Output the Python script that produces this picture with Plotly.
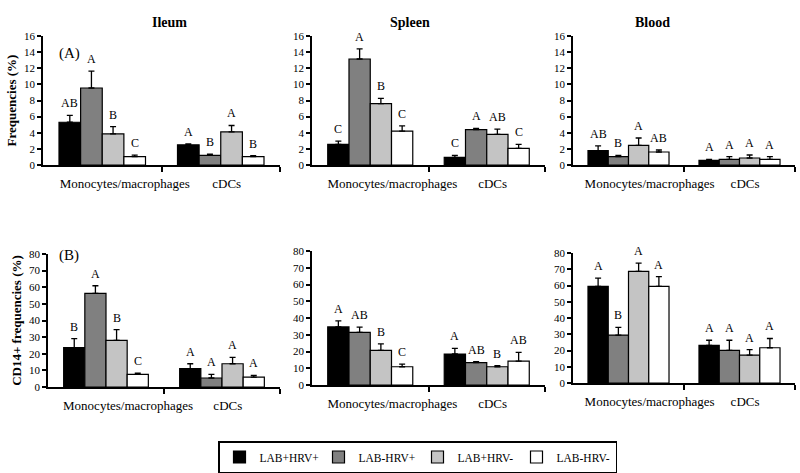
import plotly.graph_objects as go

W, H = 800, 473
FONT = "Liberation Serif, Times New Roman, Times, serif"

series_names = ["LAB+HRV+", "LAB-HRV+", "LAB+HRV-", "LAB-HRV-"]
series_colors = ["#000000", "#808080", "#c4c4c4", "#ffffff"]
categories = ["Monocytes/macrophages", "cDCs"]
category_x = [0.5, 1.5]
category_label_x = [0.69, 1.55]
tissues = ["Ileum", "Spleen", "Blood"]

# (A) Frequencies (%) -- rows = series, columns = [Monocytes/macrophages, cDCs]
ileum_freq = [[5.3, 2.5], [9.55, 1.2], [3.85, 4.1], [1.05, 1.05]]
ileum_freq_err = [[0.85, 0.12], [2.1, 0.16], [0.9, 0.8], [0.17, 0.12]]
ileum_freq_letters = [["AB", "A"], ["A", "B"], ["B", "A"], ["C", "B"]]
spleen_freq = [[2.55, 0.95], [13.15, 4.4], [7.6, 3.8], [4.2, 2.05]]
spleen_freq_err = [[0.42, 0.25], [1.25, 0.13], [0.66, 0.66], [0.66, 0.5]]
spleen_freq_letters = [["C", "C"], ["A", "A"], ["B", "AB"], ["C", "C"]]
blood_freq = [[1.78, 0.58], [1.03, 0.7], [2.44, 0.87], [1.61, 0.7]]
blood_freq_err = [[0.58, 0.12], [0.17, 0.33], [0.91, 0.37], [0.25, 0.33]]
blood_freq_letters = [["AB", "A"], ["B", "A"], ["A", "A"], ["AB", "A"]]

# (B) CD14+ frequencies (%)
ileum_cd14 = [[23.7, 11.0], [56.3, 5.4], [28.1, 14.0], [7.6, 6.0]]
ileum_cd14_err = [[5.4, 3.0], [4.6, 2.2], [6.4, 3.8], [0.8, 1.0]]
ileum_cd14_letters = [["B", "A"], ["A", "A"], ["B", "A"], ["C", "A"]]
spleen_cd14 = [[34.7, 18.5], [31.4, 13.3], [20.7, 10.9], [10.9, 14.3]]
spleen_cd14_err = [[3.6, 3.4], [3.2, 0.6], [3.8, 0.6], [1.6, 5.2]]
spleen_cd14_letters = [["A", "A"], ["AB", "AB"], ["B", "B"], ["C", "AB"]]
blood_cd14 = [[59.5, 23.2], [29.5, 20.1], [68.7, 17.2], [59.5, 21.7]]
blood_cd14_err = [[5.1, 3.1], [4.7, 6.2], [5.1, 3.3], [5.9, 5.7]]
blood_cd14_letters = [["A", "A"], ["B", "A"], ["A", "A"], ["A", "A"]]

y_titles = ["Frequencies (%)", "CD14+ frequencies (%)"]
panel_tags = ["(A)", "(B)"]
y_ranges = [[0, 16], [0, 80]]
y_dticks = [2, 10]

panels = [
    (0, 0, ileum_freq, ileum_freq_err, ileum_freq_letters),
    (0, 1, spleen_freq, spleen_freq_err, spleen_freq_letters),
    (0, 2, blood_freq, blood_freq_err, blood_freq_letters),
    (1, 0, ileum_cd14, ileum_cd14_err, ileum_cd14_letters),
    (1, 1, spleen_cd14, spleen_cd14_err, spleen_cd14_letters),
    (1, 2, blood_cd14, blood_cd14_err, blood_cd14_letters),
]

# pixel layout of each plot area: (x0, x1, ytop, ybottom)
px_boxes = {
    (0, 0): (43, 280, 36, 165), (0, 1): (312, 545, 36, 165), (0, 2): (573, 795, 36, 165),
    (1, 0): (48, 280, 254, 387), (1, 1): (312, 545, 251, 385), (1, 2): (573, 795, 253, 383),
}

BARGAP = 0.27
bar_w = (1 - BARGAP) / len(series_names)

fig = go.Figure()
annotations = []
layout_axes = {}

for k, (r, c, means, errs, letters) in enumerate(panels):
    idx = k + 1
    xa = "x" if idx == 1 else f"x{idx}"
    ya = "y" if idx == 1 else f"y{idx}"
    x0, x1, yt, yb = px_boxes[(r, c)]
    for i, name in enumerate(series_names):
        fig.add_trace(go.Bar(
            x=category_x, y=means[i], name=name,
            marker=dict(color=series_colors[i], line=dict(color="#000", width=1.2)),
            error_y=dict(type="data", array=errs[i], arrayminus=[0, 0], symmetric=False,
                         color="#000", thickness=1.3, width=3),
            xaxis=xa, yaxis=ya, showlegend=(k == 0), offsetgroup=str(i),
        ))
        for j in range(len(categories)):
            annotations.append(dict(
                x=category_x[j] + (i - 1.5) * bar_w, y=means[i][j] + errs[i][j],
                xref=xa, yref=ya, text=letters[i][j], showarrow=False,
                yanchor="bottom", yshift=3, font=dict(family=FONT, size=12, color="#000")))
    xkey = "xaxis" if idx == 1 else f"xaxis{idx}"
    ykey = "yaxis" if idx == 1 else f"yaxis{idx}"
    layout_axes[xkey] = dict(
        domain=[x0 / W, x1 / W], anchor=ya, range=[0, 2], automargin=False,
        tickvals=category_label_x, ticktext=categories, ticks="", ticklabelstandoff=6,
        tickfont=dict(family=FONT, size=13, color="#000"),
        showline=True, linecolor="#000", linewidth=1.5, showgrid=False, zeroline=False,
        minor=dict(tickvals=[1, 2], ticks="outside", ticklen=5, tickwidth=1.5, tickcolor="#000"),
    )
    ycfg = dict(
        domain=[1 - yb / H, 1 - yt / H], anchor=xa, range=y_ranges[r], dtick=y_dticks[r],
        tick0=0, ticks="outside", ticklen=4, tickwidth=1.5, tickcolor="#000", automargin=False,
        tickfont=dict(family=FONT, size=11, color="#000"),
        showline=True, linecolor="#000", linewidth=1.5, showgrid=False, zeroline=False,
    )
    if c == 0:
        ycfg["title"] = dict(text=f"<b>{y_titles[r]}</b>", standoff=4,
                             font=dict(family=FONT, size=13, color="#000"))
    layout_axes[ykey] = ycfg

title_x = [150, 410, 672]
for t, xp in zip(tissues, title_x):
    annotations.append(dict(x=xp / W, y=1 - 13 / H, xref="paper", yref="paper", text=f"<b>{t}</b>",
                            showarrow=False, font=dict(family=FONT, size=14, color="#000")))
for tag, yp in zip(panel_tags, [43, 255]):
    annotations.append(dict(x=57 / W, y=1 - yp / H, xref="paper", yref="paper", text=tag,
                            xanchor="left", showarrow=False, font=dict(family=FONT, size=15, color="#000")))

fig.update_layout(
    width=W, height=H, margin=dict(l=0, r=0, t=0, b=0, autoexpand=False),
    paper_bgcolor="#fff", plot_bgcolor="#fff",
    barmode="group", bargap=BARGAP, bargroupgap=0,
    font=dict(family=FONT, color="#000"),
    annotations=annotations,
    legend=dict(orientation="h", x=218 / W, y=1 - 441 / H, xanchor="left", yanchor="top",
                bordercolor="#000", borderwidth=1.5, entrywidth=54, entrywidthmode="pixels",
                font=dict(family=FONT, size=11.5, color="#000"), traceorder="normal"),
    **layout_axes,
)

fig.write_html("out.html", config={"displayModeBar": False},
               post_script="document.body.style.margin='0';document.body.style.overflow='hidden';")
